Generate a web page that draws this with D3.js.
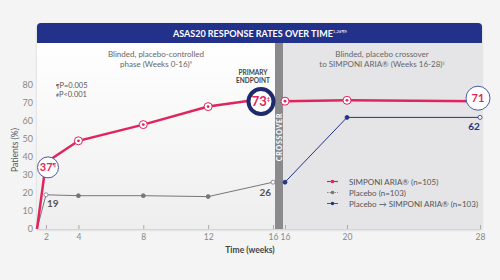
<!DOCTYPE html>
<html>
<head>
<meta charset="utf-8">
<script src="https://cdn.jsdelivr.net/npm/d3@7"></script>
<style>
  body { margin: 0; background: #f4f4f4; }
  text { font-family: Lato, "Open Sans", sans-serif; }
</style>
</head>
<body>
<div id="container"></div>
<script>
// data
const weeksBlinded = [0, 2, 4, 8, 12, 16];
const simponiBlinded = [0, 37, 49, 58, 68, 73];
const placeboBlinded = [0, 19, 18.5, 18.5, 18, 26];
const weeksCrossover = [16, 20, 28];
const simponiCrossover = [71, 71.5, 71];
const placeboToSimponi = [26, 62, 62];
const yTicks = [0, 10, 20, 30, 40, 50, 60, 70, 80];
const xTicksBlinded = [2, 4, 8, 12, 16];
const xTicksCrossover = [16, 20, 28];
const legendLabels = ["SIMPONI ARIA®  (n=105)", "Placebo (n=103)", "Placebo \u2192 SIMPONI ARIA® (n=103)"];

const RED = "#e0245e", NAVY = "#25347f", GREY = "#777";

const width = 500, height = 280;
const svg = d3.select("#container").append("svg")
  .attr("width", width).attr("height", height);

const panelTop = 43, panelBottom = 229, panelLeft = 37, panelRight = 482, barL = 275, barR = 283;

// scales
const y = d3.scaleLinear().domain([0, 80]).range([panelBottom, 85]);
const xL = d3.scaleLinear().domain([0, 2, 16]).range([panelLeft, 46, 273]);
const xR = d3.scaleLinear().domain([16, 20, 28]).range([285, 347, 480]);

// panels
const defs = svg.append("defs");
const grad = defs.append("linearGradient").attr("id", "lg").attr("x1", 0).attr("x2", 0).attr("y1", 0).attr("y2", 1);
grad.append("stop").attr("offset", "0%").attr("stop-color", "#ffffff");
grad.append("stop").attr("offset", "100%").attr("stop-color", "#eeeeef");
const sh = defs.append("filter").attr("id", "sh").attr("x", "-5%").attr("y", "-5%").attr("width", "110%").attr("height", "115%");
sh.append("feDropShadow").attr("dx", 0).attr("dy", 1).attr("stdDeviation", 1.2).attr("flood-color", "#000").attr("flood-opacity", 0.18);

const panel = svg.append("g").attr("filter", "url(#sh)");
panel.append("rect").attr("x", panelLeft).attr("y", panelTop).attr("width", barL - panelLeft).attr("height", panelBottom - panelTop).attr("fill", "url(#lg)");
panel.append("rect").attr("x", barR).attr("y", panelTop).attr("width", panelRight - barR).attr("height", panelBottom - panelTop).attr("fill", "#e5e5e8");
panel.append("rect").attr("x", barL).attr("y", panelTop).attr("width", barR - barL).attr("height", panelBottom - panelTop).attr("fill", "#8a8a8c");
panel.append("path")
  .attr("d", `M${panelLeft},${panelTop} V27 Q${panelLeft},23 ${panelLeft + 4},23 H${panelRight - 4} Q${panelRight},23 ${panelRight},27 V${panelTop} Z`)
  .attr("fill", "#22318a");

// title
const title = svg.append("text").attr("x", 260).attr("y", 36.5).attr("text-anchor", "middle")
  .attr("fill", "#fff").attr("font-weight", 700).attr("font-size", 9);
title.append("tspan").text("ASAS20 RESPONSE RATES OVER TIME");
title.append("tspan").attr("font-size", 4.5).attr("dy", -3.5).attr("font-weight", 400).text("1,2#¶§");

// crossover label
svg.append("text").attr("transform", `translate(281.5,137) rotate(-90)`)
  .attr("text-anchor", "middle").attr("fill", "#fff").attr("font-size", 7).attr("font-weight", 700)
  .attr("letter-spacing", 0.8).text("CROSSOVER");

// phase notes
const note = (x, yy, lines, sup) => {
  const t = svg.append("text").attr("text-anchor", "middle").attr("fill", "#666").attr("font-size", 8);
  t.append("tspan").attr("x", x).attr("y", yy).text(lines[0]);
  t.append("tspan").attr("x", x).attr("y", yy + 10).text(lines[1]);
  t.append("tspan").attr("font-size", 4.5).attr("dy", -3).text(sup);
};
note(156, 57, ["Blinded, placebo-controlled", "phase (Weeks 0-16)"], "§");
note(382, 57, ["Blinded, placebo crossover", "to SIMPONI ARIA® (Weeks 16-28)"], "||");

// p values
[["¶", "P=0.005", 88], ["#", "P<0.001", 97]].forEach(([s, txt, yy]) => {
  const t = svg.append("text").attr("x", 56).attr("y", yy).attr("fill", "#555").attr("font-size", 7.5);
  t.append("tspan").attr("font-size", 5).text(s);
  t.append("tspan").text(txt);
});

// y axis
const yAxis = svg.append("g").attr("transform", `translate(${panelLeft},0)`)
  .call(d3.axisLeft(y).tickValues(yTicks).tickSize(0).tickPadding(4));
yAxis.select(".domain").remove();
yAxis.selectAll("text").attr("fill", "#888").attr("font-size", 9);

svg.append("text").attr("transform", "translate(18,150) rotate(-90)").attr("text-anchor", "middle")
  .attr("fill", "#555").attr("font-size", 8.5).text("Patients (%)");

// x axes
[[xL, xTicksBlinded], [xR, xTicksCrossover]].forEach(([sc, ticks]) => {
  const g = svg.append("g").attr("transform", `translate(0,${panelBottom})`)
    .call(d3.axisBottom(sc).tickValues(ticks).tickSize(-4).tickPadding(5));
  g.select(".domain").remove();
  g.selectAll("line").attr("stroke", "#aaa");
  g.selectAll("text").attr("fill", "#888").attr("font-size", 8.5);
});
svg.append("text").attr("x", 250).attr("y", 253).attr("text-anchor", "middle")
  .attr("fill", "#444").attr("font-size", 8.5).attr("font-weight", 700).text("Time (weeks)");

// lines
const lineL = d3.line().x(d => xL(d[0])).y(d => y(d[1]));
const lineR = d3.line().x(d => xR(d[0])).y(d => y(d[1]));
const placeboPts = d3.zip(weeksBlinded, placeboBlinded);
const simponiPts = d3.zip(weeksBlinded, simponiBlinded);
const simponiPts2 = d3.zip(weeksCrossover, simponiCrossover);
const crossPts = d3.zip(weeksCrossover, placeboToSimponi);

svg.append("path").datum(placeboPts).attr("d", lineL).attr("fill", "none").attr("stroke", GREY).attr("stroke-width", 1);
svg.append("path").datum(crossPts).attr("d", lineR).attr("fill", "none").attr("stroke", NAVY).attr("stroke-width", 1);
svg.append("path").datum(simponiPts).attr("d", lineL).attr("fill", "none").attr("stroke", RED).attr("stroke-width", 2.5);
svg.append("path").datum(simponiPts2).attr("d", lineR).attr("fill", "none").attr("stroke", RED).attr("stroke-width", 2.5);

// small markers
const smallDot = (pts, sc, color, hollowWeeks) => {
  svg.append("g").selectAll("circle").data(pts.filter(d => d[0] > 0)).join("circle")
    .attr("cx", d => sc(d[0])).attr("cy", d => y(d[1])).attr("r", 2)
    .attr("fill", d => hollowWeeks.includes(d[0]) ? "#fff" : color)
    .attr("stroke", color).attr("stroke-width", 0.8);
};
smallDot(placeboPts, xL, GREY, [2, 16]);
smallDot(crossPts, xR, NAVY, [28]);

const ringDot = (pts, sc) => {
  const g = svg.append("g").selectAll("g").data(pts).join("g")
    .attr("transform", d => `translate(${sc(d[0])},${y(d[1])})`);
  g.append("circle").attr("r", 4).attr("fill", "#fff").attr("stroke", RED).attr("stroke-width", 1);
  g.append("circle").attr("r", 1.4).attr("fill", RED);
};
ringDot(simponiPts.filter(d => [4, 8, 12].includes(d[0])), xL);
ringDot(simponiPts2.filter(d => d[0] < 28), xR);

// callout circles
const callout = (cx, cy, r, sw, stroke, val, sup, fs) => {
  svg.append("circle").attr("cx", cx).attr("cy", cy).attr("r", r).attr("fill", "#fff")
    .attr("stroke", stroke).attr("stroke-width", sw);
  const t = svg.append("text").attr("x", cx).attr("y", cy + fs * 0.36).attr("text-anchor", "middle")
    .attr("fill", RED).attr("font-weight", 700).attr("font-size", fs);
  t.append("tspan").text(val);
  if (sup) t.append("tspan").attr("font-size", fs * 0.45).attr("dy", -fs * 0.4).text(sup);
};
callout(xL(2) + 2, y(simponiBlinded[1]) + 5, 10.5, 1, "#4a58a4", simponiBlinded[1], "¶", 11);
callout(xL(16) - 12, y(simponiBlinded[5]) + 4, 12.5, 4, "#1e2a6e", simponiBlinded[5], "‡", 13);
callout(xR(28) - 2, y(simponiCrossover[2]) - 3, 12, 1, "#4a58a4", simponiCrossover[2], null, 11);

// primary endpoint label
const pe = svg.append("text").attr("text-anchor", "middle").attr("fill", "#444").attr("font-size", 6.5).attr("font-weight", 700);
pe.append("tspan").attr("x", 253).attr("y", 75).text("PRIMARY");
pe.append("tspan").attr("x", 253).attr("y", 83).text("ENDPOINT");

// value labels
svg.append("text").attr("x", xL(2) + 1).attr("y", y(placeboBlinded[1]) + 12)
  .attr("fill", "#555").attr("font-weight", 700).attr("font-size", 10).text(placeboBlinded[1]);
svg.append("text").attr("x", xL(16) - 2).attr("y", y(placeboBlinded[5]) + 14).attr("text-anchor", "end")
  .attr("fill", "#555").attr("font-weight", 700).attr("font-size", 10).text(placeboBlinded[5]);
svg.append("text").attr("x", xR(28) - 6).attr("y", y(placeboToSimponi[2]) + 13).attr("text-anchor", "middle")
  .attr("fill", NAVY).attr("font-weight", 700).attr("font-size", 10).text(placeboToSimponi[2]);

// legend
const legendColors = [RED, GREY, NAVY];
const lg = svg.append("g").selectAll("g").data(legendLabels).join("g")
  .attr("transform", (d, i) => `translate(327,${181.5 + i * 11})`);
lg.append("line").attr("x1", 0).attr("x2", 11).attr("stroke", (d, i) => legendColors[i])
  .attr("stroke-width", (d, i) => i === 0 ? 1.2 : 0.8).attr("stroke-dasharray", (d, i) => i === 1 ? "1.5,1" : null);
lg.append("circle").attr("cx", 5.5).attr("r", 1.8).attr("fill", (d, i) => legendColors[i]);
lg.append("text").attr("x", 22).attr("y", 3).attr("fill", "#555").attr("font-size", 8).text(d => d);
</script>
</body>
</html>
